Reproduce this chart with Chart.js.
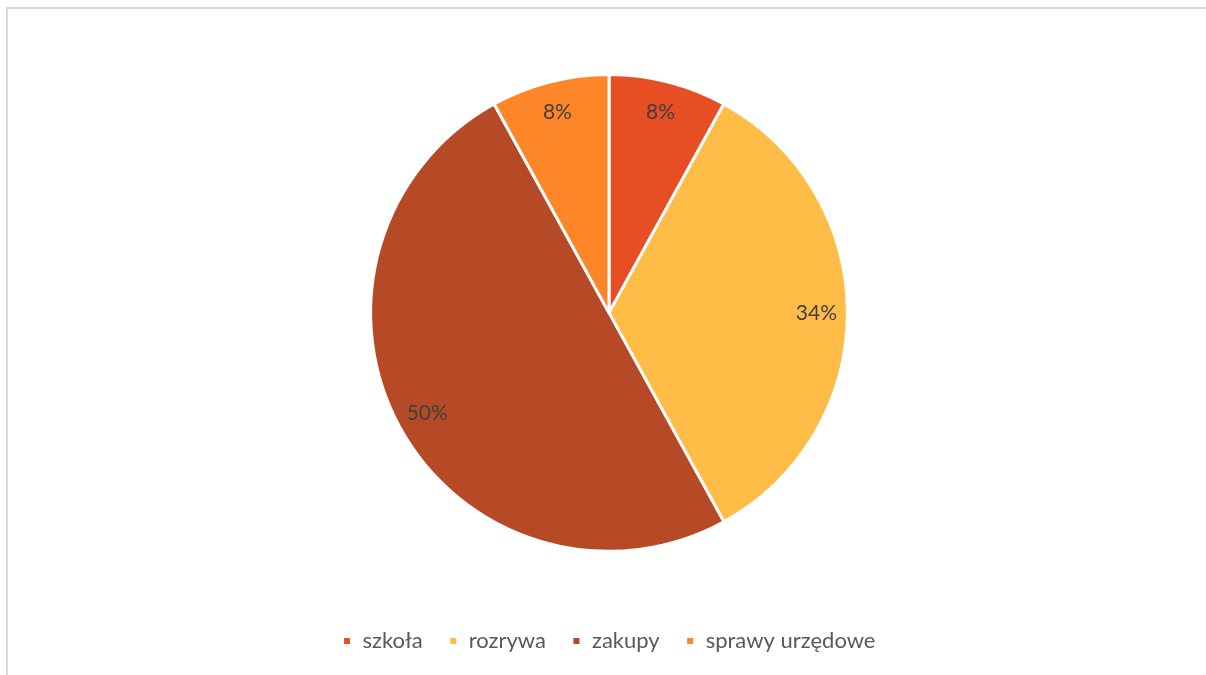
<!DOCTYPE html>
<html>
<head>
<meta charset="utf-8">
<script src="https://cdn.jsdelivr.net/npm/chart.js@4/dist/chart.umd.min.js"></script>
<style>
  body { margin: 0; background: #fff; overflow: hidden; }
  #frame { position: absolute; left: 6px; top: 7px; width: 1220px; height: 690px;
           border-left: 2px solid #d9d9d9; border-top: 2px solid #d9d9d9; }
  #wrap { position: absolute; left: 0; top: 0; width: 1206px; height: 675px; }
</style>
</head>
<body>
<div id="frame"></div>
<div id="wrap"><canvas id="pie"></canvas></div>
<script>
// dane z wykresu
var categories = ["szkoła", "rozrywa", "zakupy", "sprawy urzędowe"];
var shares = [8, 34, 50, 8];
var sliceColors = ["#E84E24", "#FFBC47", "#B64A26", "#FD8728"];

// etykiety procentowe w środku wycinków
var pctLabels = {
    id: "pctLabels",
    afterDatasetsDraw: function (chart) {
        var ctx = chart.ctx;
        var meta = chart.getDatasetMeta(0);
        var total = shares.reduce(function (a, b) { return a + b; }, 0);
        ctx.save();
        ctx.font = "21px Lato, 'Open Sans', sans-serif";
        ctx.fillStyle = "#404040";
        ctx.textAlign = "center";
        ctx.textBaseline = "middle";
        meta.data.forEach(function (arc, i) {
            var mid = (arc.startAngle + arc.endAngle) / 2;
            var r = arc.outerRadius * 0.87;
            var x = arc.x + Math.cos(mid) * r;
            var y = arc.y + Math.sin(mid) * r;
            ctx.fillText(Math.round(shares[i] / total * 100) + "%", x, y);
        });
        ctx.restore();
    }
};

new Chart(document.getElementById("pie"), {
    type: "pie",
    data: {
        labels: categories,
        datasets: [{
            data: shares,
            backgroundColor: sliceColors,
            borderColor: "#ffffff",
            borderWidth: 3
        }]
    },
    options: {
        responsive: true,
        maintainAspectRatio: false,
        animation: false,
        layout: { padding: { top: 73, bottom: 13, left: 12, right: 0 } },
        plugins: {
            tooltip: { enabled: false },
            legend: {
                position: "bottom",
                // pusty tytuł tylko po to, żeby zrobić odstęp nad legendą
                title: { display: true, text: "", font: { size: 1 }, padding: { top: 50, bottom: 0 } },
                labels: {
                    boxWidth: 9,
                    boxHeight: 9,
                    padding: 26,
                    color: "#595959",
                    font: { size: 22, family: "Lato, 'Open Sans', sans-serif" }
                }
            }
        }
    },
    plugins: [pctLabels]
});
</script>
</body>
</html>
